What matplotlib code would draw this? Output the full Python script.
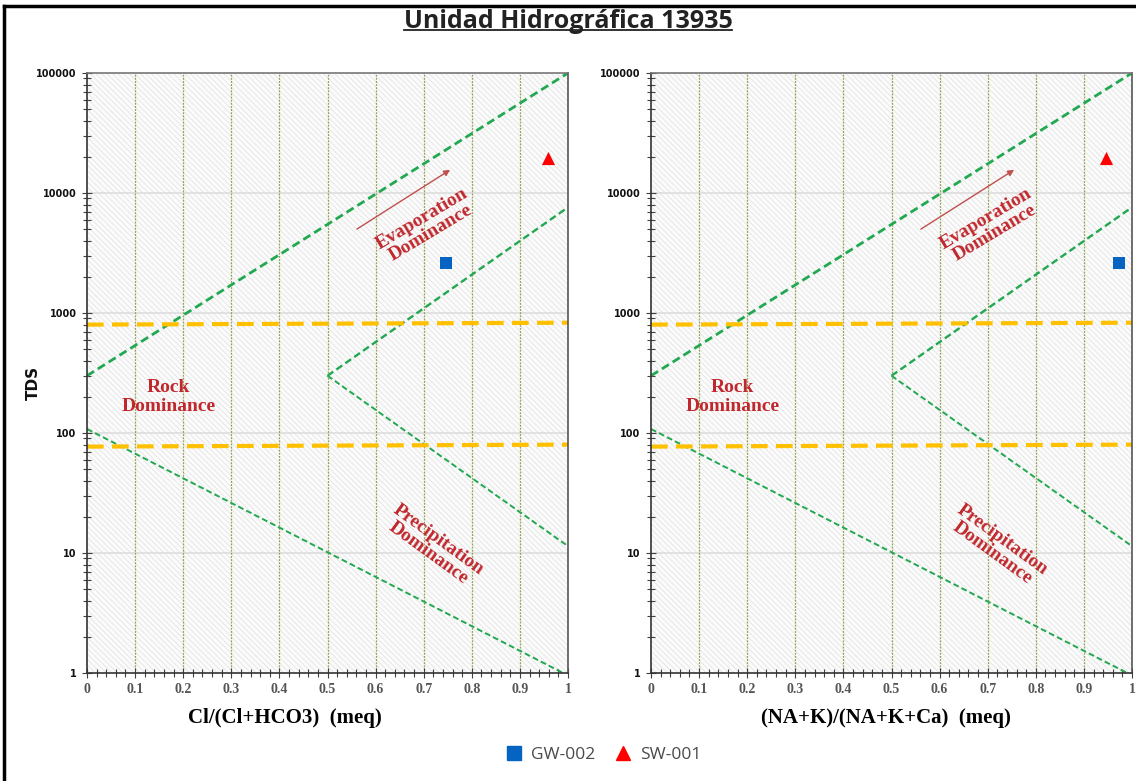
import matplotlib
matplotlib.use("Agg")
import matplotlib.pyplot as plt
import numpy as np
from matplotlib.patches import Rectangle
from matplotlib.lines import Line2D
from matplotlib.ticker import FixedLocator, NullFormatter, FixedFormatter

# ---------------- data ----------------
title = "Unidad Hidrográfica 13935"
xlabels = ["Cl/(Cl+HCO3)  (meq)", "(NA+K)/(NA+K+Ca)  (meq)"]
ylabel = "TDS"
samples = ["GW-002", "SW-001"]
left_x = [0.746, 0.958]
left_tds = [2610, 19500]
right_x = [0.973, 0.946]
right_tds = [2610, 19500]

# Gibbs boundary lines (x, TDS)
outer_upper_x = [0.0, 1.0]
outer_upper_y = [300, 100000]
inner_upper_x = [0.5, 1.0]
inner_upper_y = [300, 7600]
inner_lower_x = [0.5, 1.0]
inner_lower_y = [300, 11.4]
outer_lower_x = [0.0, 0.99]
outer_lower_y = [108, 1.0]
yellow_hi_x = [0.0, 1.0]
yellow_hi_y = [800, 830]
yellow_lo_x = [0.0, 1.0]
yellow_lo_y = [77, 80]
arrow_start = (0.561, 5000)
arrow_end = (0.755, 15600)

yticks = [1, 10, 100, 1000, 10000, 100000]
ytick_labels = ["1", "10", "100", "1000", "10000", "100000"]
xticks = [0, 0.1, 0.2, 0.3, 0.4, 0.5, 0.6, 0.7, 0.8, 0.9, 1]
xtick_labels = ["0", "0.1", "0.2", "0.3", "0.4", "0.5", "0.6", "0.7", "0.8", "0.9", "1"]

plt.rcParams["hatch.linewidth"] = 0.5
plt.rcParams["hatch.color"] = "#e0e0e0"

fig = plt.figure(figsize=(11.36, 7.81), dpi=100)
fig.patch.set_facecolor("white")

serif = ["Liberation Serif", "DejaVu Serif"]
red = "#C0282D"
green = "#22A850"
yellow = "#FFC000"

def draw(ax, xs, ys, xlabel, label_x):
    ax.set_xlim(0, 1)
    ax.set_yscale("log")
    ax.set_ylim(1, 100000)
    ax.set_facecolor("white")
    ax.add_patch(Rectangle((0, 0), 1, 1, transform=ax.transAxes, facecolor="#fbfbfb",
                           hatch="\\\\\\\\\\\\", edgecolor="#e0e0e0", linewidth=0, zorder=0))
    # grids
    for yv in yticks[1:-1]:
        ax.axhline(yv, color="#dddddd", lw=1.2, zorder=1)
    for xv in xticks[1:-1]:
        ax.axvline(xv, color="#8a9a3a", lw=0.9, ls=(0, (1.5, 1)), zorder=1, alpha=0.9)
    # boundaries
    ax.plot(outer_upper_x, outer_upper_y, color=green, lw=2.0, ls=(0, (3, 1.6)), zorder=3)
    ax.plot(inner_upper_x, inner_upper_y, color=green, lw=1.7, ls=(0, (3, 1.6)), zorder=3)
    ax.plot(inner_lower_x, inner_lower_y, color=green, lw=1.4, ls=(0, (3, 1.6)), zorder=3)
    ax.plot(outer_lower_x, outer_lower_y, color=green, lw=1.4, ls=(0, (3, 1.6)), zorder=3)
    ax.plot(yellow_hi_x, yellow_hi_y, color=yellow, lw=3, ls=(0, (4, 2)), zorder=3)
    ax.plot(yellow_lo_x, yellow_lo_y, color=yellow, lw=3, ls=(0, (4, 2)), zorder=3)
    ax.annotate("", xy=arrow_end, xytext=arrow_start,
                arrowprops=dict(arrowstyle="-|>", color="#C0504D", lw=1.0,
                                mutation_scale=9, shrinkA=0, shrinkB=0), zorder=4)
    # region labels
    ax.text(0.705, 5300, "Evaporation\nDominance", rotation=31, ha="center", va="center",
            color=red, fontsize=14, fontweight="bold", family=serif, linespacing=1.0,
            rotation_mode="anchor", zorder=5)
    ax.text(0.17, 200, "Rock\nDominance", ha="center", va="center",
            color=red, fontsize=14, fontweight="bold", family=serif, linespacing=1.1, zorder=5)
    ax.text(0.72, 11.3, "Precipitation\nDominance", rotation=-36, ha="center", va="center",
            color=red, fontsize=14, fontweight="bold", family=serif, linespacing=1.0,
            rotation_mode="anchor", zorder=5)
    # points
    ax.scatter([xs[0]], [ys[0]], marker="s", s=80, color="#0563C1", zorder=6, linewidths=0)
    ax.scatter([xs[1]], [ys[1]], marker="^", s=90, color="#FF0000", zorder=6, linewidths=0)
    # ticks
    ax.yaxis.set_major_locator(FixedLocator(yticks))
    ax.yaxis.set_major_formatter(FixedFormatter(ytick_labels))
    minors = [m * 10 ** e for e in range(0, 5) for m in range(2, 10)]
    ax.yaxis.set_minor_locator(FixedLocator(minors))
    ax.yaxis.set_minor_formatter(NullFormatter())
    ax.xaxis.set_major_locator(FixedLocator(xticks))
    ax.xaxis.set_major_formatter(FixedFormatter(xtick_labels))
    ax.xaxis.set_minor_locator(FixedLocator(np.arange(0, 1.0001, 0.02)))
    ax.tick_params(axis="both", which="both", direction="inout", color="#404040", width=0.8)
    ax.tick_params(axis="both", which="major", length=7, pad=4)
    ax.tick_params(axis="both", which="minor", length=6)
    for lab in ax.get_xticklabels():
        lab.set_family(serif); lab.set_fontweight("bold"); lab.set_color("#555555")
        lab.set_fontsize(10)
    for lab in ax.get_yticklabels():
        lab.set_family(["DejaVu Sans"]); lab.set_fontweight("bold"); lab.set_fontsize(7)
        lab.set_color("#111111")
    ax.set_xlabel(xlabel, family=serif, fontweight="bold", fontsize=15)
    ax.xaxis.set_label_coords(label_x, -0.058)
    ax.spines["left"].set_color("#333333")
    ax.spines["bottom"].set_color("#333333")
    ax.spines["top"].set_color("#777777")
    ax.spines["right"].set_color("#555555")
    for s in ax.spines.values():
        s.set_linewidth(1.2)
        s.set_zorder(7)

axL = fig.add_axes([87 / 1136, 1 - 673 / 781, 481 / 1136, 600 / 781])
axR = fig.add_axes([651 / 1136, 1 - 673 / 781, 481 / 1136, 600 / 781])
draw(axL, left_x, left_tds, xlabels[0], (285 - 87) / 481)
draw(axR, right_x, right_tds, xlabels[1], (886 - 651) / 481)

fig.text(33 / 1136, 1 - 383 / 781, ylabel, rotation=90, ha="center", va="center",
         fontsize=11, fontweight="bold", family=["DejaVu Sans"], color="#111111")

# title
t = fig.text(568 / 1136, 1 - 21 / 781, title, ha="center", va="center", fontsize=18,
             fontweight="bold", family=["Open Sans", "DejaVu Sans"], color="#222222")
fig.canvas.draw()
bb = t.get_window_extent().transformed(fig.transFigure.inverted())
fig.add_artist(Line2D([bb.x0, bb.x1], [bb.y0 + 0.005, bb.y0 + 0.005], color="#222222", lw=1.3,
                      transform=fig.transFigure))

# frame
fig.add_artist(Line2D([4 / 1136, 4 / 1136], [0, 1 - 6 / 781], color="black", lw=2.5,
                      transform=fig.transFigure))
fig.add_artist(Line2D([4 / 1136, 1], [1 - 6 / 781, 1 - 6 / 781], color="black", lw=2.5,
                      transform=fig.transFigure))

# legend
handles = [Line2D([], [], marker="s", ls="none", color="#0563C1", markersize=10),
           Line2D([], [], marker="^", ls="none", color="#FF0000", markersize=10)]
fig.legend(handles, samples, loc="center", bbox_to_anchor=(599 / 1136, 1 - 755 / 781), ncol=2,
           frameon=False, prop={"family": ["Open Sans", "DejaVu Sans"], "size": 12.5},
           handletextpad=0.0, columnspacing=0.6, labelcolor="#4a4a4a")

fig.savefig("out.png", dpi=100, facecolor="white")
